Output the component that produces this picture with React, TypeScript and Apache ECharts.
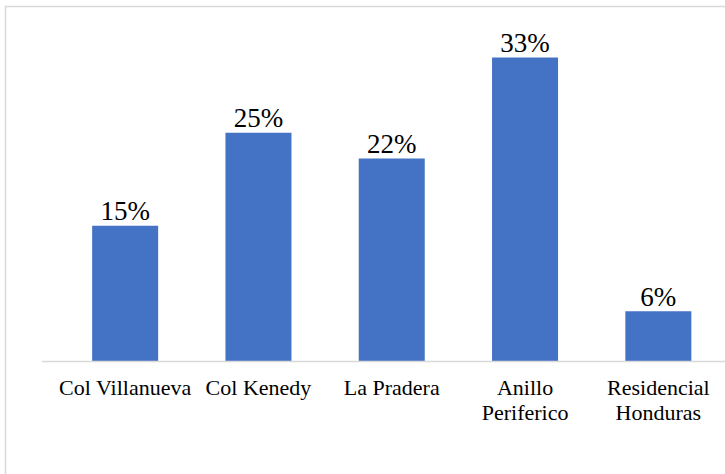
import React, { useEffect, useRef } from "react";
import * as echarts from "echarts";

const categories = ["Col Villanueva", "Col Kenedy", "La Pradera", "Anillo\nPeriferico", "Residencial\nHonduras"];
const values = [14.7, 24.8, 22.0, 33.0, 5.4];
const valueLabels = ["15%", "25%", "22%", "33%", "6%"];

const SERIF = "'Liberation Serif', 'Times New Roman', serif";

export default function App() {
  const ref = useRef<HTMLDivElement>(null);
  useEffect(() => {
    const chart = echarts.init(ref.current!, null, { renderer: "svg" });
    chart.setOption({
      animation: false,
      backgroundColor: "#ffffff",
      grid: { left: 58.5, right: -7.5, top: 39, bottom: 113, containLabel: false },
      xAxis: {
        type: "category",
        data: categories,
        axisLine: { show: false },
        axisTick: { show: false },
        axisLabel: {
          color: "#000000",
          fontFamily: SERIF,
          fontSize: 22,
          lineHeight: 25,
          margin: 14,
          interval: 0,
        },
      },
      yAxis: {
        type: "value",
        min: 0,
        max: 35,
        show: false,
        splitLine: { show: false },
      },
      graphic: [
        {
          type: "rect",
          shape: { x: 5.5, y: 6.5, width: 800, height: 600 },
          style: { fill: "none", stroke: "#d9d9d9", lineWidth: 1.5 },
          silent: true,
          z: 0,
        },
        {
          type: "line",
          shape: { x1: 42, y1: 361.5, x2: 725, y2: 361.5 },
          style: { stroke: "#d9d9d9", lineWidth: 1.5 },
          silent: true,
          z: 10,
        },
      ],
      series: [
        {
          type: "bar",
          data: values,
          barWidth: 66,
          itemStyle: { color: "#4472C4" },
          z: 5,
          label: {
            show: true,
            position: "top",
            distance: 1,
            color: "#000000",
            fontFamily: SERIF,
            fontSize: 27,
            formatter: (p: any) => valueLabels[p.dataIndex],
          },
        },
      ],
    });
    return () => chart.dispose();
  }, []);
  return (
    <div
      ref={ref}
      style={{ position: "absolute", left: 0, top: 0, width: 725, height: 474 }}
    />
  );
}
